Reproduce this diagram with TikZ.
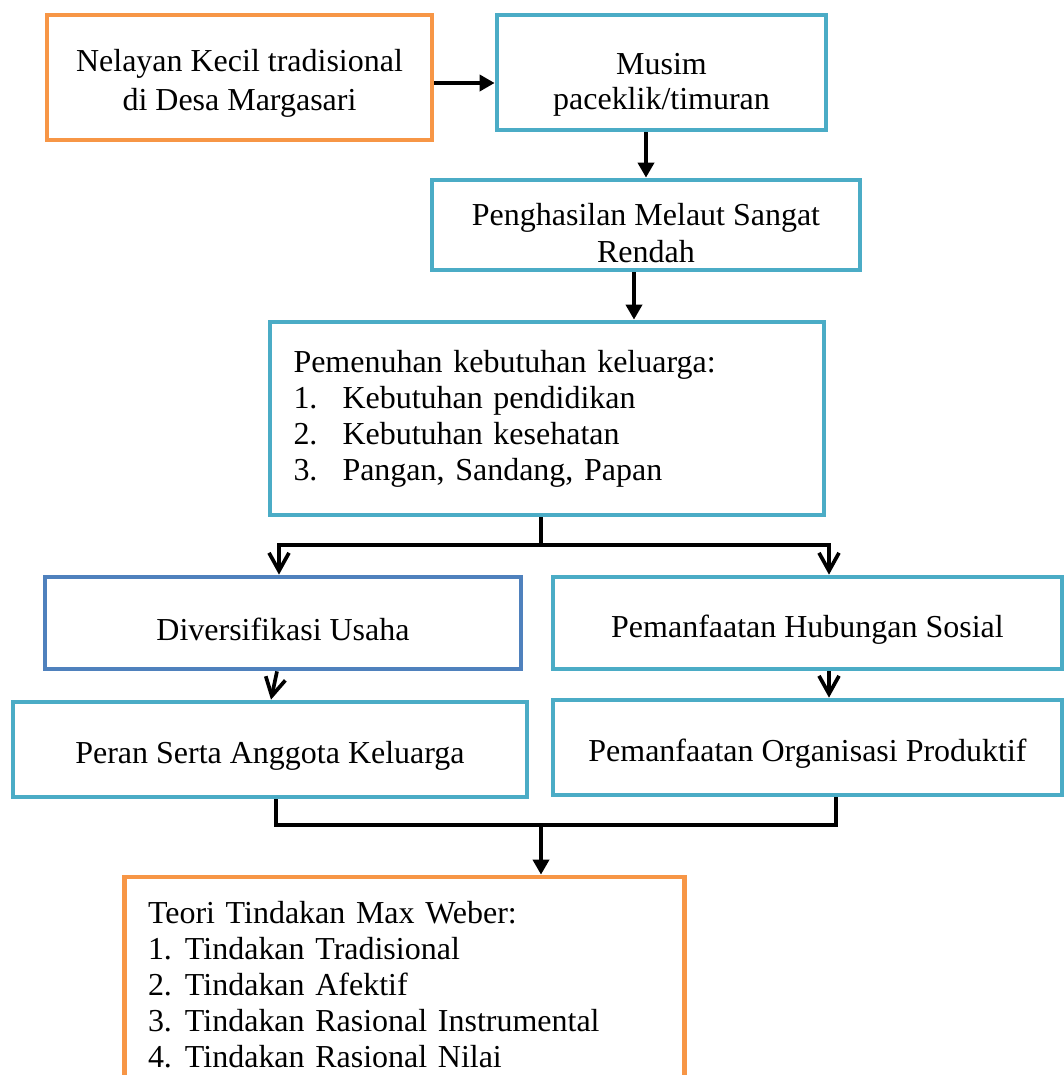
\documentclass[tikz,border=0pt]{standalone}
\usepackage{fontspec}
\setmainfont{Liberation Serif}
\usetikzlibrary{arrows.meta,calc}
\definecolor{boxorange}{RGB}{247,150,70}
\definecolor{boxcyan}{RGB}{75,172,198}
\definecolor{boxblue}{RGB}{79,129,189}
\tikzset{
  box/.style={draw=#1, line width=2.7pt, align=center, inner sep=0pt, font=\fontsize{18.2}{21}\selectfont,
    execute at begin node={\rule{0pt}{0.7cm}}},
  box/.default={boxcyan},
  listbox/.style={draw=#1, line width=2.7pt, align=left, inner xsep=0.47cm, inner ysep=0pt, font=\fontsize{18.2}{20.5}\selectfont},
  listbox/.default={boxcyan},
  arrow/.style={-{Triangle[length=0.3cm,width=0.32cm]}, line width=2.1pt},
  barb/.style={-{Straight Barb[length=0.36cm,width=0.4cm]}, line width=2.1pt},
  joint/.style={line width=2.1pt}
}
\begin{document}
\begin{tikzpicture}
  \useasboundingbox (0,0) rectangle (21.28,-21.5);
  \clip (0,0) rectangle (21.28,-21.5);
  \node[box=boxorange, minimum width=7.7cm, minimum height=2.5cm] (nelayan) at (4.79,-1.55) {\rule{0pt}{0.68cm}Nelayan Kecil tradisional\\[1pt] di Desa Margasari};
  \node[box, minimum width=6.58cm, minimum height=2.3cm] (musim) at (13.23,-1.45) {\rule{0pt}{0.93cm}Musim\\[-1pt] paceklik/timuran};
  \node[box, minimum width=8.56cm, minimum height=1.8cm] (hasil) at (12.92,-4.5) {\rule{0pt}{0.75cm}Penghasilan Melaut Sangat\\ Rendah};
  \node[listbox, text width=10.14cm, minimum height=3.86cm] (kebutuhan) at (10.94,-8.37) {Pemenuhan kebutuhan keluarga:\\
    \makebox[0.98cm][l]{1.}Kebutuhan pendidikan\\
    \makebox[0.98cm][l]{2.}Kebutuhan kesehatan\\
    \makebox[0.98cm][l]{3.}Pangan, Sandang, Papan};
  \node[box=boxblue, minimum width=9.52cm, minimum height=1.84cm] (usaha) at (5.66,-12.46) {Diversifikasi Usaha};
  \node[box, minimum width=10.18cm, minimum height=1.84cm] (sosial) at (16.15,-12.46) {Pemanfaatan Hubungan Sosial};
  \node[box, minimum width=10.28cm, minimum height=1.9cm] (keluarga) at (5.4,-14.99) {Peran Serta Anggota Keluarga};
  \node[box, minimum width=10.18cm, minimum height=1.9cm] (organisasi) at (16.15,-14.95) {Pemanfaatan Organisasi Produktif};
  \node[listbox=boxorange, text width=10.26cm, minimum height=4.32cm] (weber) at (8.09,-19.7) {Teori Tindakan Max Weber:\\
    \makebox[0.74cm][l]{1.}Tindakan Tradisional\\
    \makebox[0.74cm][l]{2.}Tindakan Afektif\\
    \makebox[0.74cm][l]{3.}Tindakan Rasional Instrumental\\
    \makebox[0.74cm][l]{4.}Tindakan Rasional Nilai};

  \draw[arrow] ($(nelayan.east)+(0,-0.11)$) -- ($(musim.west)+(0,-0.21)$);
  \draw[arrow] (musim.south -| hasil.north) -- (hasil.north);
  \coordinate (turun) at ($(hasil.south)+(-0.24,0)$);
  \draw[arrow] (turun) -- (turun |- kebutuhan.north);

  \coordinate (split) at (10.82,-10.9);
  \draw[joint] (split |- kebutuhan.south) -- (split);
  \draw[barb] (split) -| ([xshift=-0.08cm]usaha.north);
  \draw[barb] (split) -| ([xshift=0.43cm]sosial.north);
  \draw[barb] ([xshift=-0.12cm]usaha.south) -- ([xshift=0.02cm]keluarga.north);
  \draw[barb] ([xshift=0.43cm]sosial.south) -- ([xshift=0.43cm]organisasi.north);

  \coordinate (merge) at (10.82,-16.5);
  \draw[joint] ([xshift=0.12cm]keluarga.south) |- (merge) -| ([xshift=0.57cm]organisasi.south);
  \draw[arrow] (merge) -- (merge |- weber.north);
\end{tikzpicture}
\end{document}
